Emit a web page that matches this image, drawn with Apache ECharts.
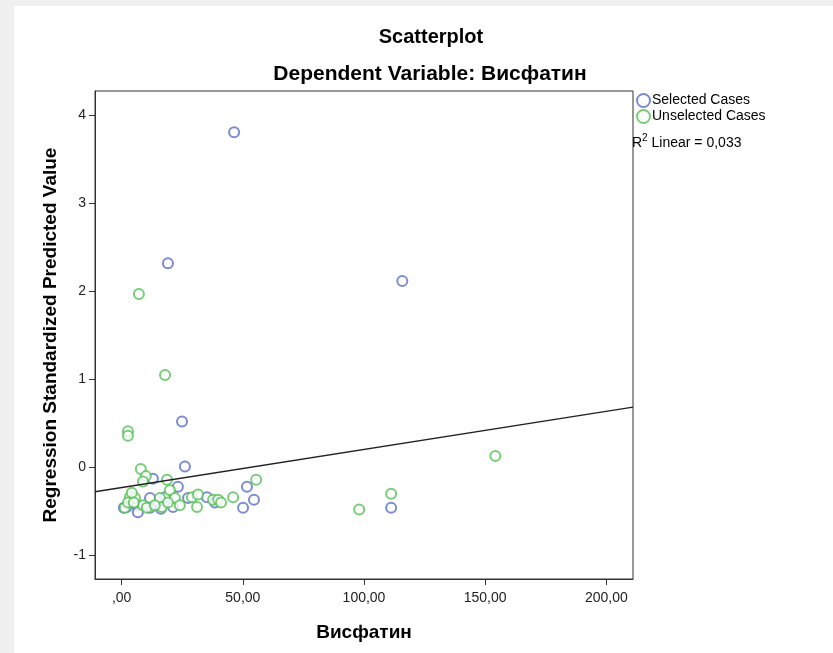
<!DOCTYPE html>
<html>
<head>
<meta charset="utf-8">
<script src="https://cdn.jsdelivr.net/npm/echarts@6/dist/echarts.min.js"></script>
<style>
  html, body { margin: 0; padding: 0; background: #f0f0f0; }
  #chart { position: absolute; left: 14px; top: 6px; width: 819px; height: 647px; background: #fff; }
</style>
</head>
<body>
<div id="chart"></div>
<script>
/* Scatterplot: Regression Standardized Predicted Value vs Висфатин */

const selectedCases = [
    [46.4, 3.81], [19.1, 2.32], [115.8, 2.12], [24.9, 0.52], [26.1, 0.01],
    [51.7, -0.22], [54.6, -0.37], [50.1, -0.46], [111.2, -0.46], [12.9, -0.13],
    [23.2, -0.22], [11.7, -0.35], [6.3, -0.43], [2.1, -0.45], [11.7, -0.46],
    [17.9, -0.34], [21.2, -0.45], [27.4, -0.35], [35.2, -0.34], [16.2, -0.47],
    [6.7, -0.51], [0.9, -0.46], [38.5, -0.40],
];
const unselectedCases = [
    [7.1, 1.97], [17.9, 1.05], [2.6, 0.41], [2.6, 0.36], [154.2, 0.13],
    [55.5, -0.14], [111.2, -0.30], [98.0, -0.48], [46.0, -0.34], [7.9, -0.02],
    [10.0, -0.10], [8.8, -0.16], [18.7, -0.14], [19.9, -0.26], [3.4, -0.34],
    [5.5, -0.35], [4.2, -0.29], [1.3, -0.46], [8.8, -0.43], [10.4, -0.46],
    [15.8, -0.35], [16.6, -0.45], [22.0, -0.35], [19.1, -0.40], [24.0, -0.43],
    [29.0, -0.34], [31.5, -0.31], [31.1, -0.45], [37.7, -0.37], [39.8, -0.37],
    [2.6, -0.40], [5.0, -0.40], [13.7, -0.43], [41.0, -0.40],
];
const xTicks = [0, 50, 100, 150, 200];
const yTicks = [-1, 0, 1, 2, 3, 4];
const xRange = [-11, 211];
const yRange = [-1.27, 4.28];
// fit line (R2 Linear = 0,033)
const fitIntercept = -0.23;
const fitSlope = 0.00434;

const fitLine = xRange.map(x => [x, fitIntercept + fitSlope * x]);

const chart = echarts.init(document.getElementById('chart'));
const font = 'Liberation Sans, Arial, sans-serif';

chart.setOption({
    animation: false,
    textStyle: { fontFamily: font },
    title: [
        { text: 'Scatterplot', left: 412, top: 16, textAlign: 'center',
          textStyle: { fontSize: 20, fontWeight: 'bold', color: '#000', fontFamily: font } },
        { text: 'Dependent Variable: Висфатин', left: 411, top: 53, textAlign: 'center',
          textStyle: { fontSize: 21, fontWeight: 'bold', color: '#000', fontFamily: font } },
    ],
    legend: {
        orient: 'vertical',
        left: 617, top: 82,
        itemWidth: 13, itemHeight: 13, itemGap: 1,
        data: ['Selected Cases', 'Unselected Cases'],
        textStyle: { fontSize: 14, color: '#000', padding: [0, 0, 0, -3] },
    },
    graphic: [{
        type: 'text',
        left: 618, top: 127,
        style: {
            text: '{r|R}{s|2}{r| Linear = 0,033}',
            rich: {
                r: { fontSize: 14, fill: '#000', fontFamily: font, verticalAlign: 'bottom' },
                s: { fontSize: 10, fill: '#000', fontFamily: font, verticalAlign: 'top', padding: [0, 0, 7, 0] },
            },
        },
    }],
    grid: { left: 81, top: 85, width: 538, height: 488, show: true, borderColor: '#333', borderWidth: 1, backgroundColor: '#fff' },
    xAxis: {
        type: 'value',
        min: xRange[0], max: xRange[1],
        name: 'Висфатин', nameLocation: 'middle', nameGap: 44,
        nameTextStyle: { fontSize: 19, fontWeight: 'bold', color: '#000' },
        axisLine: { show: true, onZero: false, lineStyle: { color: '#333' } },
        axisTick: { show: true, length: 6, customValues: xTicks, lineStyle: { color: '#333' } },
        axisLabel: {
            customValues: xTicks, fontSize: 14, color: '#222', margin: 12,
            formatter: v => v === 0 ? ',00' : v.toFixed(2).replace('.', ','),
        },
        splitLine: { show: false },
    },
    yAxis: {
        type: 'value',
        min: yRange[0], max: yRange[1],
        name: 'Regression Standardized Predicted Value', nameLocation: 'middle', nameGap: 35, nameRotate: 90,
        nameTextStyle: { fontSize: 19, fontWeight: 'bold', color: '#000' },
        axisLine: { show: true, onZero: false, lineStyle: { color: '#333' } },
        axisTick: { show: true, length: 6, customValues: yTicks, lineStyle: { color: '#333' } },
        axisLabel: { customValues: yTicks, fontSize: 14, color: '#222', margin: 9 },
        splitLine: { show: false },
    },
    series: [
        {
            name: 'Selected Cases', type: 'scatter', data: selectedCases,
            symbol: 'emptyCircle', symbolSize: 10,
            itemStyle: { color: '#5b6fc6', borderColor: '#5b6fc6', borderWidth: 1.5 },
        },
        {
            name: 'Unselected Cases', type: 'scatter', data: unselectedCases,
            symbol: 'emptyCircle', symbolSize: 10,
            itemStyle: { color: '#55c255', borderColor: '#55c255', borderWidth: 1.5 },
        },
        {
            name: 'fit', type: 'line', data: fitLine,
            symbol: 'none', silent: true,
            lineStyle: { color: '#222', width: 1.3 },
        },
    ],
});
</script>
</body>
</html>
